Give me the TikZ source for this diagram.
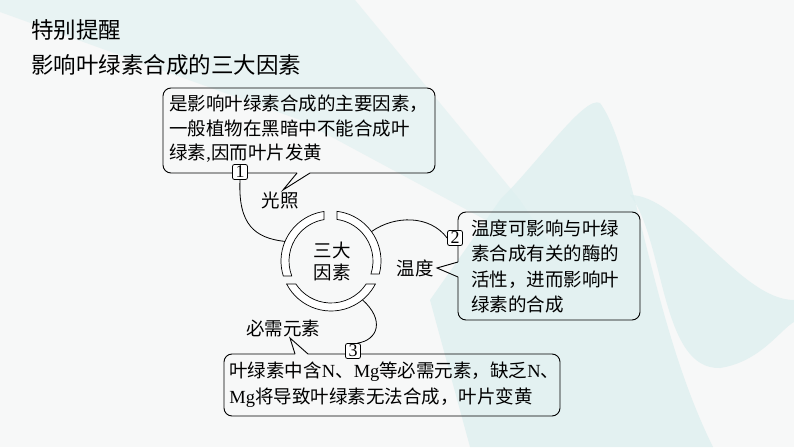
\documentclass[tikz,border=0pt]{standalone}
\usepackage{fontspec}
\setmainfont{Noto Sans CJK SC}
\newfontfamily\lat{Liberation Serif}
\definecolor{bg}{HTML}{F7F8F8}
\definecolor{bgc}{HTML}{DDEFEF}
\begin{document}
\begin{tikzpicture}[x=1pt,y=1pt,line width=0.8pt,
  txt/.style={inner sep=0pt,font=\fontsize{18.5}{24.5}\selectfont,align=left},
  lbl/.style={inner sep=0pt,font=\fontsize{18.5}{22}\selectfont,align=center},
  ttl/.style={inner sep=0pt,font=\fontsize{22.5}{27}\selectfont,anchor=west},
  numbox/.style={draw,rounded corners=2pt,fill=white,minimum size=15pt,inner sep=0pt,font=\lat\fontsize{18}{18}\selectfont},
  band/.style={draw,fill=white,line width=0.7pt},
  link/.style={draw,line width=0.8pt},
  boxline/.style={draw,line width=0.9pt,rounded corners=8pt}]
\useasboundingbox (0,0) rectangle (794,447);
% background
\fill[bg] (0,0) rectangle (794,447);
\begin{scope}[shift={(0,447)},yscale=-1]
  \fill[bgc,opacity=0.55] (0,0) -- (355,0) -- (520,200) -- (560,260) -- (300,120) -- (0,12) -- cycle;
  \fill[bgc,opacity=0.75] (600,103) .. controls (635,150) and (650,320) .. (713,447) -- (470,447) -- (430,300) -- (500,200) .. controls (540,160) and (585,95) .. (600,103) -- cycle;
  \fill[bgc,opacity=0.75] (630,195) .. controls (665,240) and (660,370) .. (720,368) .. controls (760,362) and (780,330) .. (794,322) -- (794,300) .. controls (740,300) and (680,195) .. (630,195) -- cycle;
\end{scope}
% titles
\node[ttl] (t1) at (31,417) {特别提醒};
\node[ttl] (t2) at (31,382) {影响叶绿素合成的三大因素};
% box 1
\draw[boxline] (297,274) -- (163,274) -- (163,359) -- (435,359) -- (435,274) -- (310,274);
\draw[line width=0.9pt] (297,274) -- (283,257) -- (310,274);
\node[txt,anchor=west] (b1) at (169,318) {是影响叶绿素合成的主要因素，\\一般植物在黑暗中不能合成叶\\绿素{\lat ,}因而叶片发黄};
% box 2
\draw[boxline] (458,185) -- (458,235) -- (640,235) -- (640,127) -- (458,127) -- (458,170);
\draw[line width=0.9pt] (458,185) -- (437,179) -- (458,170);
\node[txt,anchor=west,font=\fontsize{18.5}{25.5}\selectfont] (b2) at (471,180.5) {温度可影响与叶绿\\素合成有关的酶的\\活性，进而影响叶\\绿素的合成};
% box 3
\draw[boxline] (295,93) -- (224,93) -- (224,31) -- (560,31) -- (560,93) -- (308,93);
\draw[line width=0.9pt] (295,93) -- (290,109) -- (308,93);
\node[txt,anchor=west,font=\fontsize{18.5}{26}\selectfont] (b3) at (229,62) {叶绿素中含{\lat N}、{\lat Mg}等必需元素，缺乏{\lat N}、\\{\lat Mg}将导致叶绿素无法合成，叶片变黄};
% ring
\begin{scope}[shift={(331,186)}]
  \draw[band] (98.05:50pt) arc[start angle=98.05,end angle=197.46,radius=50pt] -- (200.92:42pt) arc[start angle=200.92,end angle=99.59,radius=42pt] -- cycle;
  \draw[band] (83.11:50pt) arc[start angle=83.11,end angle=-15.07,radius=50pt] -- (-18.02:42pt) arc[start angle=-18.02,end angle=81.79,radius=42pt] -- cycle;
  \draw[band] (207.39:50pt) arc[start angle=207.39,end angle=332.61,radius=50pt] -- (326.81:42pt) arc[start angle=326.81,end angle=213.19,radius=42pt] -- cycle;
  \coordinate (r1) at (157:50pt);
  \coordinate (r2) at (36:50pt);
  \coordinate (r3) at (-51:50pt);
\end{scope}
\node[lbl] (core) at (332,186) {三大\\因素};
% labels
\node[lbl] (k1) at (280,246) {光照};
\node[lbl] (k2) at (415,179) {温度};
\node[lbl] (k3) at (283,119) {必需元素};
% number boxes
\node[numbox] (n1) at (240,275) {1};
\node[numbox] (n2) at (455,209) {2};
\node[numbox] (n3) at (353,96) {3};
% connectors
\draw[link] (n1.south) .. controls (238,222) and (255,209) .. (r1);
\draw[link] (r2) .. controls (395,232) and (430,232) .. (n2.west);
\draw[link] (r3) .. controls (385,127) and (378,107) .. (n3.60);
\end{tikzpicture}
\end{document}
